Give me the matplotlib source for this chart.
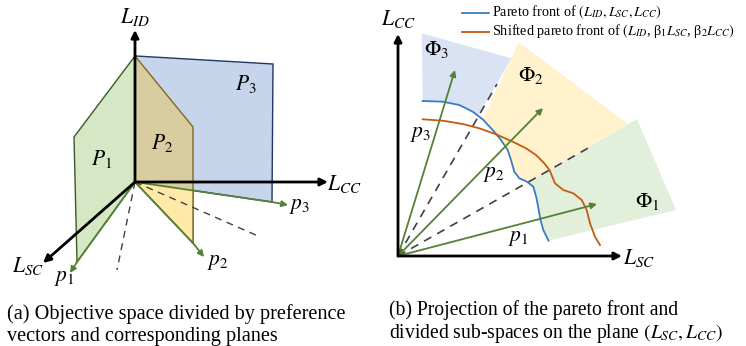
import numpy as np
import matplotlib.pyplot as plt
from matplotlib.patches import Polygon

plt.rcParams['font.family'] = ['Liberation Serif', 'DejaVu Serif']
plt.rcParams['mathtext.fontset'] = 'stix'

## DATA (pixel coordinates of the sketch, y grows downward)

# (a) 3D objective space
origin_a = (135, 182)
axis_tips_a = {'L_ID': (135, 30), 'L_CC': (328, 182), 'L_SC': (43, 263)}
plane_p1 = [(135, 56), (74, 137), (77, 262), (135, 182)]
plane_p2 = [(135, 56), (193, 127), (193, 243), (135, 182)]
plane_p2_low = [(135, 182), (193, 191), (193, 243)]
plane_p3 = [(136, 56), (273, 64), (272, 202), (135, 182)]
pref_start_a = [(77, 262), (193, 243), (272, 202)]
pref_tip_a = [(70, 273), (204, 257), (288, 205)]
dash_ends_a = [(117, 270), (258, 236)]

# (b) projection on (L_SC, L_CC)
origin_b = (398, 256)
axis_tips_b = {'L_CC': (398, 34), 'L_SC': (622, 256)}
pref_tip_b = [(597, 204), (543, 108), (455, 70)]
dash_ends_b = [(497, 84), (590, 147)]
front_x = [422.7, 442.7, 459.3, 472.7, 482.7, 492.7, 501, 507.7, 511, 514.3,
           519.3, 525, 527.7, 533.3, 536.5, 538.7, 540.5, 543.3, 548.5]
front_y = [101, 101.7, 105, 111.7, 119.3, 130, 140, 150, 160, 171.7,
           178.3, 180.7, 182.3, 186.7, 198, 210, 220, 230, 240.7]
shifted_x = [422.7, 442.7, 462.7, 479.3, 496, 512.7, 526, 536, 544.3, 549.5,
             555, 563.3, 573.3, 581.7, 586.7, 590, 595, 600]
shifted_y = [119.3, 120.7, 124, 128.3, 134.3, 141.7, 148.3, 155, 163.3, 170,
             183.3, 190, 193.3, 200, 210, 223.3, 236.7, 245]
region_phi3 = [(421.7, 33.3), (511.6, 58.3), (478.3, 115)]
region_phi2 = [(519, 42), (628, 124), (527, 182)]
region_phi1 = [(637, 119), (676, 210), (548.5, 240.7), (527, 182)]

legend_labels = ['Pareto front of $(L_{ID}, L_{SC}, L_{CC})$',
                 r'Shifted pareto front of $(L_{ID}$, β$_1L_{SC}$, β$_2L_{CC})$']
caption_a = "(a) Objective space divided by preference\nvectors and corresponding planes"
caption_b = "(b) Projection of the pareto front and\ndivided sub-spaces on the plane $(L_{SC},L_{CC})$"

GREEN = '#548235'
BLUE_LINE = '#3a7cc4'
ORANGE_LINE = '#c55a11'
LBL = 15.5

fig = plt.figure(figsize=(7.46, 3.46), dpi=100)
ax = fig.add_axes([0, 0, 1, 1])
ax.set_xlim(0, 746)
ax.set_ylim(346, 0)
ax.axis('off')


def arrow(p0, p1, color, lw, ms):
    ax.annotate('', xy=p1, xytext=p0,
                arrowprops=dict(arrowstyle='-|>', color=color, lw=lw,
                                mutation_scale=ms, shrinkA=0, shrinkB=0))


## PANEL (a)
ax.add_patch(Polygon(plane_p3, closed=True, fc='#c6d4ec', ec='#1f3864', lw=1))
ax.add_patch(Polygon(plane_p2, closed=True, fc='#d8cca0', ec='#7f6a1e', lw=1))
ax.add_patch(Polygon(plane_p2_low, closed=True, fc='#fee9a9', ec='none'))
ax.plot([193, 193, 135], [191, 243, 182], color='#7f6a1e', lw=1)
ax.add_patch(Polygon(plane_p1, closed=True, fc='#d6e7c6', ec='#3b5a22', lw=1))

for p in dash_ends_a:
    ax.plot([origin_a[0], p[0]], [origin_a[1], p[1]], '--', color='#404040', lw=1, dashes=(5, 4))

for p0, p1 in zip(pref_start_a, pref_tip_a):
    ax.plot([origin_a[0], p0[0]], [origin_a[1], p0[1]], color=GREEN, lw=1.3)
    arrow(p0, p1, GREEN, 1.3, 9)

for k, tip in axis_tips_a.items():
    arrow(origin_a, tip, 'black', 2, 11)

ax.text(135, 17, '$L_{ID}$', fontsize=LBL, ha='center', va='center')
ax.text(344, 184, '$L_{CC}$', fontsize=LBL, ha='center', va='center')
ax.text(28, 266, '$L_{SC}$', fontsize=LBL, ha='center', va='center')
ax.text(102, 159, '$P_1$', fontsize=LBL, ha='center', va='center')
ax.text(162, 143, '$P_2$', fontsize=LBL, ha='center', va='center')
ax.text(246, 84, '$P_3$', fontsize=LBL, ha='center', va='center')
ax.text(299, 207, '$p_3$', fontsize=LBL, ha='center', va='center')
ax.text(218, 262, '$p_2$', fontsize=LBL, ha='center', va='center')
ax.text(64, 279, '$p_1$', fontsize=LBL, ha='center', va='center')

## PANEL (b)
fx = np.array(front_x)
fy = np.array(front_y)
i3 = 4  # front point where the first dashed line cuts
i2 = 12
ax.add_patch(Polygon(region_phi3 + list(zip(fx[:i3][::-1], fy[:i3][::-1])),
                     closed=True, fc='#dae3f3', ec='none'))
ax.add_patch(Polygon(region_phi2 + list(zip(fx[i3:i2][::-1], fy[i3:i2][::-1])),
                     closed=True, fc='#fff2cc', ec='none'))
ax.add_patch(Polygon(region_phi1 + list(zip(fx[i2:], fy[i2:]))[::-1],
                     closed=True, fc='#e2efda', ec='none'))

for p in dash_ends_b:
    ax.plot([origin_b[0], p[0]], [origin_b[1], p[1]], '--', color='#404040', lw=1.2, dashes=(5, 4))

ax.plot(front_x, front_y, color=BLUE_LINE, lw=1.3)
ax.plot(shifted_x, shifted_y, color=ORANGE_LINE, lw=1.3)

for tip in pref_tip_b:
    arrow(origin_b, tip, GREEN, 1.3, 9)

for k, tip in axis_tips_b.items():
    arrow(origin_b, tip, 'black', 2, 11)

ax.text(398, 19, '$L_{CC}$', fontsize=LBL, ha='center', va='center')
ax.text(639, 258, '$L_{SC}$', fontsize=LBL, ha='center', va='center')
ax.text(437, 50, r'$\Phi_3$', fontsize=LBL, ha='center', va='center')
ax.text(531, 75, r'$\Phi_2$', fontsize=LBL, ha='center', va='center')
ax.text(647, 201, r'$\Phi_1$', fontsize=LBL, ha='center', va='center')
ax.text(420, 134, '$p_3$', fontsize=LBL, ha='center', va='center')
ax.text(494, 175, '$p_2$', fontsize=LBL, ha='center', va='center')
ax.text(518, 238, '$p_1$', fontsize=LBL, ha='center', va='center')

# legend
for yy, col, lab in zip([12.5, 31.5], [BLUE_LINE, ORANGE_LINE], legend_labels):
    ax.plot([462, 489], [yy, yy], color=col, lw=1.3)
    ax.text(492, yy, lab, fontsize=10.3, va='center')

# captions
ax.text(7, 325, caption_a, fontsize=14.6, va='center', linespacing=1.15)
ax.text(389, 323, caption_b, fontsize=14.1, va='center', linespacing=1.12)

fig.savefig('out.png', dpi=100)
